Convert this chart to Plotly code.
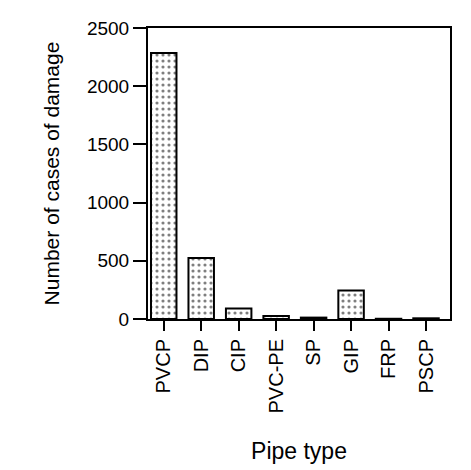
import plotly.graph_objects as go

pipe_types = ["PVCP", "DIP", "CIP", "PVC-PE", "SP", "GIP", "FRP", "PSCP"]
damage_cases = [2285, 525, 90, 25, 12, 245, 2, 6]
y_ticks = [0, 500, 1000, 1500, 2000, 2500]

fig = go.Figure(go.Bar(
    x=list(range(len(pipe_types))),
    y=damage_cases,
    width=0.68,
    marker=dict(
        color="white",
        line=dict(color="black", width=2),
        pattern=dict(shape=".", fgcolor="black", bgcolor="white", size=6, solidity=0.22),
    ),
))

font = "Liberation Sans, Arial, sans-serif"
fig.update_layout(
    width=463, height=462,
    margin=dict(l=140, r=21, t=20, b=151),
    paper_bgcolor="white", plot_bgcolor="white",
    showlegend=False,
    font=dict(family=font, color="black", size=19),
)
fig.update_xaxes(
    range=[-0.42, 7.64],
    tickmode="array", tickvals=list(range(len(pipe_types))), ticktext=pipe_types,
    tickangle=-90, ticks="outside", ticklen=10, tickwidth=2, tickcolor="black",
    showline=True, linecolor="black", linewidth=2, mirror=True,
    showgrid=False, zeroline=False,
    tickfont=dict(size=20, color="black"),
    title=dict(text="Pipe type", font=dict(size=23), standoff=30),
    automargin=False,
)
fig.update_yaxes(
    range=[0, 2500],
    tickmode="array", tickvals=y_ticks,
    ticks="outside", ticklen=13, tickwidth=2, tickcolor="black",
    showline=True, linecolor="black", linewidth=2, mirror=True,
    showgrid=False, zeroline=False,
    tickfont=dict(size=19, color="black"),
    title=dict(text="Number of cases of damage", font=dict(size=21), standoff=22),
    automargin=False,
)

fig.write_html("out.html")
